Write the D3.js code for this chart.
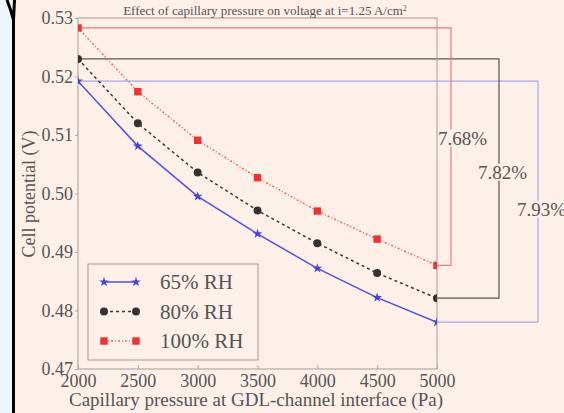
<!DOCTYPE html>
<html>
<head>
<meta charset="utf-8">
<script src="https://cdn.jsdelivr.net/npm/d3@7"></script>
<style>
  body { margin: 0; background: #fdf0e9; }
  svg { display: block; }
  text { font-family: "Liberation Serif", "DejaVu Serif", serif; fill: #555; }
</style>
</head>
<body>
<div id="vis"></div>
<script>
// chart values
var pressure = [2000, 2500, 3000, 3500, 4000, 4500, 5000];
var rh65  = [0.5192, 0.5081, 0.4995, 0.4931, 0.4872, 0.4822, 0.4780];
var rh80  = [0.5230, 0.5120, 0.5036, 0.4971, 0.4915, 0.4864, 0.4821];
var rh100 = [0.5283, 0.5174, 0.5091, 0.5027, 0.4970, 0.4922, 0.4877];
var seriesNames = ["65% RH", "80% RH", "100% RH"];
var dropLabels = ["7.93%", "7.82%", "7.68%"];
var xTicks = [2000, 2500, 3000, 3500, 4000, 4500, 5000];
var yTicks = [0.47, 0.48, 0.49, 0.50, 0.51, 0.52, 0.53];

var W = 564, H = 413;
var bg = "#fdf0e9";
var plot = {left: 78, right: 437, top: 18, bottom: 369};

var x = d3.scaleLinear().domain([2000, 5000]).range([plot.left, plot.right]);
var y = d3.scaleLinear().domain([0.47, 0.53]).range([plot.bottom, plot.top]);

var svg = d3.select("#vis").append("svg")
    .attr("width", W).attr("height", H);

// side strip + black frame
svg.append("rect").attr("width", 12).attr("height", H).attr("fill", "#eef6fd");
svg.append("path")
    .attr("d", "M7,0 Q11,10 13.5,20 L13.5," + H + " M14.5,0 L13.5,20")
    .attr("fill", "none").attr("stroke", "#000").attr("stroke-width", 3);

var series = [
  {name: seriesNames[0], vals: rh65, color: "#5050e6", mark: "#4646c8", dash: null, sym: d3.symbolStar, size: 30, bracket: "#a8a4e6", bx: 538, lx: 517, ly: 209},
  {name: seriesNames[1], vals: rh80, color: "#3a3a3a", mark: "#333", dash: "3,3", sym: d3.symbolCircle, size: 50, bracket: "#555", bx: 499, lx: 478, ly: 172},
  {name: seriesNames[2], vals: rh100, color: "#f26262", mark: "#ee3333", dash: "2,2,1,2", sym: d3.symbolSquare, size: 55, bracket: "#f07878", bx: 451, lx: 438, ly: 138}
];

svg.append("defs").append("clipPath").attr("id", "clip")
  .append("rect")
    .attr("x", plot.left).attr("y", plot.top)
    .attr("width", plot.right - plot.left).attr("height", plot.bottom - plot.top);

// brackets showing the drop across the range
series.forEach(function (s, i) {
  var y0 = y(s.vals[0]), y1 = y(s.vals[s.vals.length - 1]);
  svg.append("path")
      .attr("d", "M" + x(pressure[0]) + "," + y0 + " H" + s.bx + " V" + y1 + " H" + x(pressure[pressure.length - 1]))
      .attr("fill", "none").attr("stroke", s.bracket).attr("stroke-width", 1.2);
});

// axes frame
var axisColor = "#b3aaa3";
svg.append("rect")
    .attr("x", plot.left).attr("y", plot.top)
    .attr("width", plot.right - plot.left).attr("height", plot.bottom - plot.top)
    .attr("fill", "none").attr("stroke", axisColor).attr("stroke-width", 1.2);

var xAxis = svg.append("g").attr("transform", "translate(0," + plot.bottom + ")")
    .call(d3.axisBottom(x).tickValues(xTicks).tickFormat(d3.format("d")).tickSizeInner(-4).tickSizeOuter(0).tickPadding(6));
var yAxis = svg.append("g").attr("transform", "translate(" + plot.left + ",0)")
    .call(d3.axisLeft(y).tickValues(yTicks).tickFormat(d3.format(".2f")).tickSizeInner(3).tickSizeOuter(0).tickPadding(2));
[xAxis, yAxis].forEach(function (a) {
  a.select(".domain").remove();
  a.selectAll("line").attr("stroke", axisColor);
  a.selectAll("text").style("font-size", "18px").attr("fill", "#555")
      .style("font-family", "'Liberation Serif', serif");
});
xAxis.selectAll("text").attr("dy", "0.71em").attr("y", 5);

// lines and markers
var line = d3.line().x(function (d, i) { return x(pressure[i]); }).y(function (d) { return y(d); });
var g = svg.append("g").attr("clip-path", "url(#clip)");
series.forEach(function (s) {
  g.append("path").datum(s.vals)
      .attr("d", line).attr("fill", "none")
      .attr("stroke", s.color).attr("stroke-width", 1.5)
      .attr("stroke-dasharray", s.dash);
  g.selectAll(null).data(s.vals).enter().append("path")
      .attr("d", d3.symbol().type(s.sym).size(s.size))
      .attr("fill", s.mark)
      .attr("transform", function (d, i) { return "translate(" + x(pressure[i]) + "," + y(d) + ")"; });
});

// percentage labels
series.forEach(function (s, i) {
  var t = svg.append("text")
      .attr("x", s.lx).attr("y", s.ly).attr("dy", "0.35em")
      .style("font-size", "19px").text(dropLabels[i]);
  var bb = t.node().getBBox();
  svg.insert("rect", function () { return t.node(); })
      .attr("x", bb.x).attr("y", bb.y + 2).attr("width", bb.width).attr("height", bb.height - 4)
      .attr("fill", bg);
});

// legend
var lg = svg.append("g");
lg.append("rect").attr("x", 88).attr("y", 264).attr("width", 170).attr("height", 96)
    .attr("fill", bg).attr("stroke", axisColor).attr("stroke-width", 1.2);
series.forEach(function (s, i) {
  var ly = 282 + i * 29.5;
  lg.append("line").attr("x1", 104).attr("x2", 136).attr("y1", ly).attr("y2", ly)
      .attr("stroke", s.color).attr("stroke-width", 1.5).attr("stroke-dasharray", s.dash);
  [104, 136].forEach(function (px) {
    lg.append("path").attr("d", d3.symbol().type(s.sym).size(s.size))
        .attr("fill", s.mark).attr("transform", "translate(" + px + "," + ly + ")");
  });
  lg.append("text").attr("x", 160).attr("y", ly).attr("dy", "0.35em")
      .style("font-size", "21px").text(s.name);
});

// titles
svg.append("text").attr("x", 265).attr("y", 15).attr("text-anchor", "middle")
    .style("font-size", "13px")
    .html("Effect of capillary pressure on voltage at i=1.25 A/cm<tspan dy='-4' font-size='8px'>2</tspan>");
svg.append("text").attr("x", 256).attr("y", 406).attr("text-anchor", "middle")
    .style("font-size", "19px").text("Capillary pressure at GDL-channel interface (Pa)");
svg.append("text").attr("transform", "translate(35,194) rotate(-90)").attr("text-anchor", "middle")
    .style("font-size", "18px").text("Cell potential (V)");
</script>
</body>
</html>
